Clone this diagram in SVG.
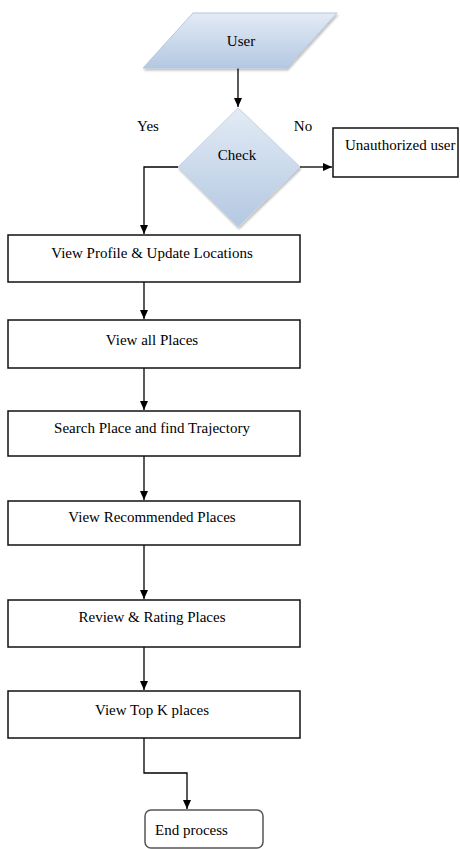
<svg xmlns="http://www.w3.org/2000/svg" width="460" height="849" viewBox="0 0 460 849">
<defs>
<linearGradient id="blue" x1="0" y1="0" x2="0" y2="1">
<stop offset="0" stop-color="#e3ebf5"/>
<stop offset="1" stop-color="#b3c8e2"/>
</linearGradient>
<marker id="arr" markerWidth="10" markerHeight="10" refX="9" refY="5" orient="auto" markerUnits="userSpaceOnUse">
<path d="M0,1 L9,5 L0,9 Z" fill="#000"/>
</marker>
<filter id="sh" x="-10%" y="-10%" width="130%" height="140%">
<feDropShadow dx="1" dy="2" stdDeviation="1.2" flood-color="#000" flood-opacity="0.25"/>
</filter>
</defs>
<style>
text{font-family:'Liberation Serif','DejaVu Serif',serif;font-size:15px;fill:#000;}
.box{fill:#fff;stroke:#111;stroke-width:1.5;}
.con{fill:none;stroke:#000;stroke-width:1.3;}
</style>
<rect width="460" height="849" fill="#fff"/>
<g id="connectors">
<path class="con" d="M238,68 V107" marker-end="url(#arr)"/>
<path class="con" d="M300,167 H332" marker-end="url(#arr)"/>
<path class="con" d="M178,167 H144 V234" marker-end="url(#arr)"/>
<path class="con" d="M144,282 V319" marker-end="url(#arr)"/>
<path class="con" d="M144,368 V410" marker-end="url(#arr)"/>
<path class="con" d="M144,456 V500" marker-end="url(#arr)"/>
<path class="con" d="M144,545 V599" marker-end="url(#arr)"/>
<path class="con" d="M144,647 V690" marker-end="url(#arr)"/>
<path class="con" d="M144,738 V773 H187 V809" marker-end="url(#arr)"/>
</g>
<g id="user">
<polygon points="193,13 337,13 287,68 143,68" fill="url(#blue)" stroke="#b5c7de" stroke-width="1" filter="url(#sh)"/>
<text x="241" y="46" text-anchor="middle" font-family="Liberation Serif, serif">User</text>
</g>
<g id="check">
<polygon points="238,108 300,167 238,227 178,167" fill="url(#blue)" stroke="#c4d3e6" stroke-width="1" filter="url(#sh)"/>
<text x="237" y="160" text-anchor="middle" font-family="Liberation Serif, serif">Check</text>
<text x="148" y="131" text-anchor="middle" font-family="Liberation Serif, serif">Yes</text>
<text x="303" y="131" text-anchor="middle" font-family="Liberation Serif, serif">No</text>
</g>
<g id="unauthorized">
<rect class="box" x="333" y="128" width="125" height="49"/>
<text x="345" y="150" font-family="Liberation Serif, serif">Unauthorized user</text>
</g>
<g id="viewProfile">
<rect class="box" x="8" y="235" width="292" height="47"/>
<text x="152" y="258" text-anchor="middle" font-family="Liberation Serif, serif">View Profile &amp; Update Locations</text>
</g>
<g id="viewAll">
<rect class="box" x="8" y="320" width="292" height="48"/>
<text x="152" y="345" text-anchor="middle" font-family="Liberation Serif, serif">View all Places</text>
</g>
<g id="search">
<rect class="box" x="8" y="411" width="292" height="45"/>
<text x="152" y="433" text-anchor="middle" font-family="Liberation Serif, serif">Search Place and find Trajectory</text>
</g>
<g id="recommended">
<rect class="box" x="8" y="501" width="292" height="44"/>
<text x="152" y="522" text-anchor="middle" font-family="Liberation Serif, serif">View Recommended Places</text>
</g>
<g id="review">
<rect class="box" x="8" y="600" width="292" height="47"/>
<text x="152" y="622" text-anchor="middle" font-family="Liberation Serif, serif">Review &amp; Rating Places</text>
</g>
<g id="topK">
<rect class="box" x="8" y="691" width="292" height="47"/>
<text x="152" y="715" text-anchor="middle" font-family="Liberation Serif, serif">View Top K places</text>
</g>
<g id="end">
<rect x="145" y="810" width="118" height="38" rx="6" ry="6" fill="#fff" stroke="#555" stroke-width="1.5"/>
<text x="155" y="835" font-family="Liberation Serif, serif">End process</text>
</g>
</svg>
